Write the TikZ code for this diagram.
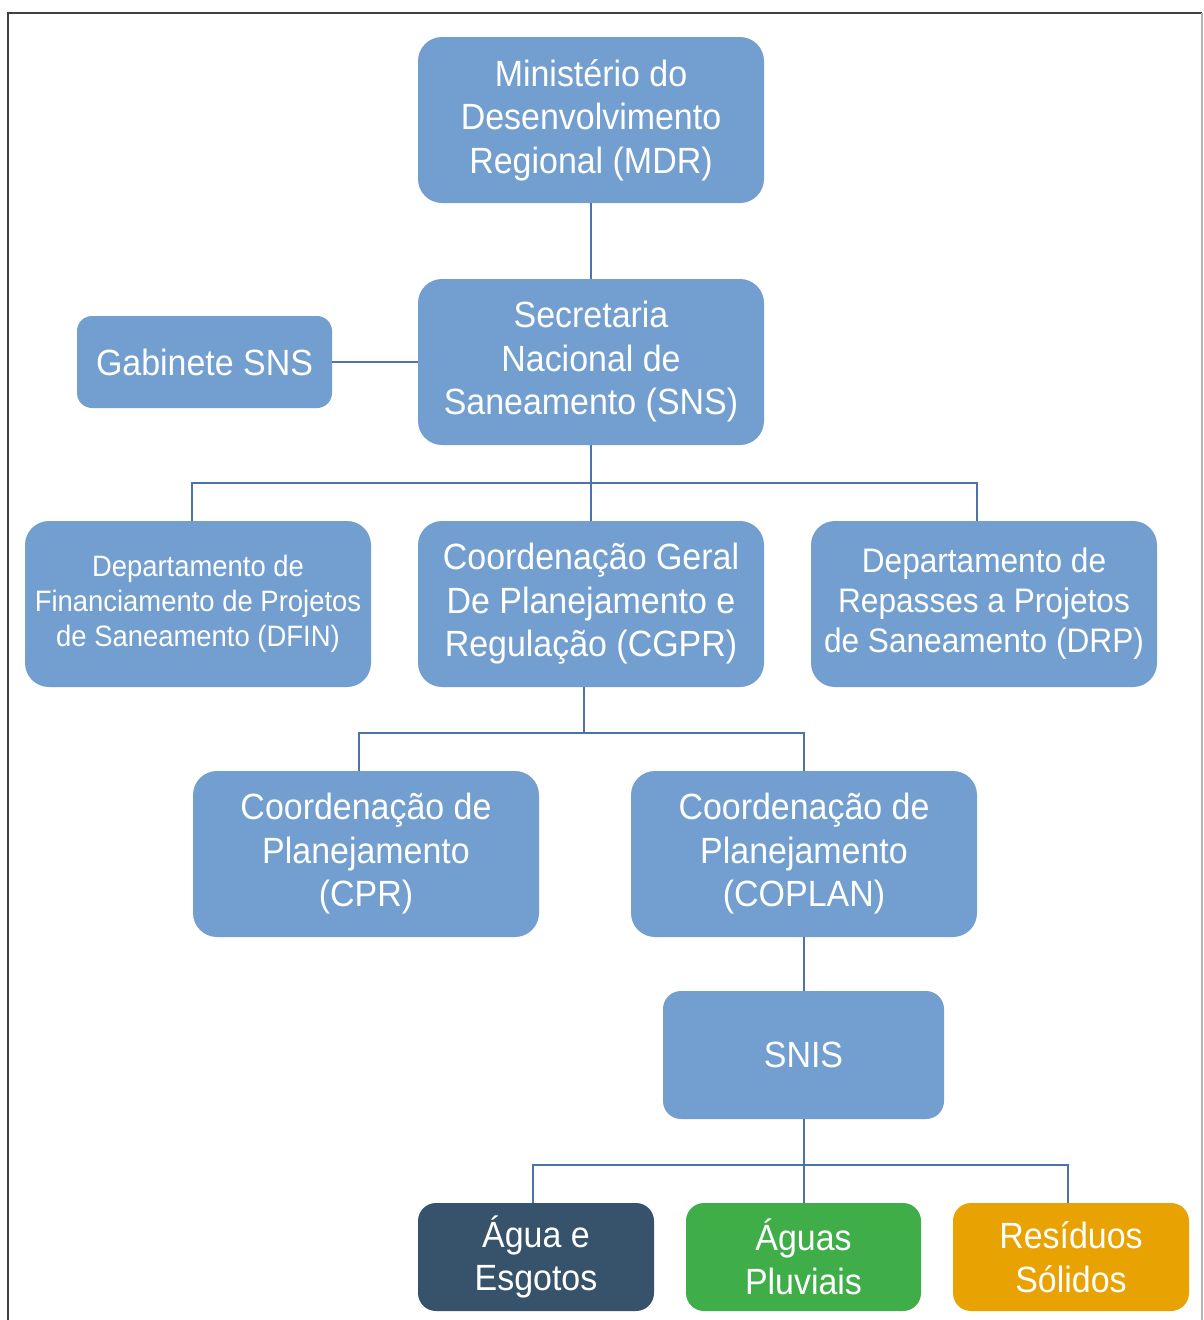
\documentclass[tikz,border=0pt]{standalone}
\usepackage{fontspec}
\setmainfont{Liberation Sans}
\newfontfamily\boxfont[FakeStretch=0.93]{Liberation Sans}
\definecolor{boxblue}{HTML}{729FCF}
\definecolor{connblue}{HTML}{4C73AC}
\definecolor{darkbox}{HTML}{36536B}
\definecolor{greenbox}{HTML}{3FAE49}
\definecolor{orangebox}{HTML}{E8A202}
\definecolor{framegray}{HTML}{404040}
\begin{document}
\begin{tikzpicture}[x=1pt,y=-1pt,
  orgbox/.style={rectangle, rounded corners=24pt, fill=boxblue, text=white,
    align=center, inner sep=0pt, minimum width=346pt, minimum height=166pt,
    font=\boxfont\fontsize{36.5}{43.5}\selectfont},
  smallbox/.style={orgbox, rounded corners=18pt},
  conn/.style={draw=connblue, line width=1.4pt}]
\useasboundingbox (0,0) rectangle (1203,1320);
\fill[white] (0,0) rectangle (1203,1320);
% frame
\draw[framegray, line width=2pt] (8,1330) -- (8,12.5) -- (1202,12.5);
\draw[gray!60, line width=1.2pt] (1202,12.5) -- (1202,1330);
% nodes
\node[orgbox] (mdr) at (591,120) {Ministério do\\Desenvolvimento\\Regional (MDR)};
\node[orgbox] (sns) at (591,362) {Secretaria\\Nacional de\\Saneamento (SNS)};
\node[smallbox, minimum width=255pt, minimum height=92pt, rounded corners=15pt] (gab) at (204.5,362) {Gabinete SNS};
\node[orgbox, font=\boxfont\fontsize{29.5}{35}\selectfont] (dfin) at (198,604) {Departamento de\\Financiamento de Projetos\\de Saneamento (DFIN)};
\node[orgbox] (cgpr) at (591,604) {Coordenação Geral\\De Planejamento e\\Regulação (CGPR)};
\node[orgbox, font=\boxfont\fontsize{34}{40}\selectfont] (drp) at (984,604) {Departamento de\\Repasses a Projetos\\de Saneamento (DRP)};
\node[orgbox] (cpr) at (366,854) {Coordenação de\\Planejamento\\(CPR)};
\node[orgbox] (coplan) at (804,854) {Coordenação de\\Planejamento\\(COPLAN)};
\node[smallbox, minimum width=281pt, minimum height=128pt] (snis) at (803.5,1055) {SNIS};
\node[smallbox, fill=darkbox, minimum width=236pt, minimum height=108pt] (agua) at (536,1257) {Água e\\Esgotos};
\node[smallbox, fill=greenbox, minimum width=235pt, minimum height=108pt] (pluv) at (803.5,1257) {Águas\\Pluviais};
\node[smallbox, fill=orangebox, minimum width=236pt, minimum height=108pt] (resid) at (1071,1257) {Resíduos\\Sólidos};
% connectors
\draw[conn] (mdr.south) -- (sns.north);
\draw[conn] (gab.east) -- (sns.west |- gab.east);
\coordinate (bus1) at (591,483);
\draw[conn] (sns.south) -- (bus1);
\draw[conn] ([xshift=-6pt]dfin.north) |- (bus1) -| ([xshift=-7pt]drp.north);
\draw[conn] (bus1) -- (cgpr.north);
\coordinate (bus2) at (584,733);
\draw[conn] ([xshift=-7pt]cgpr.south) -- (bus2);
\draw[conn] ([xshift=-7pt]cpr.north) |- (bus2) -| (coplan.north);
\draw[conn] (coplan.south) -- (coplan.south |- snis.north);
\coordinate (bus3) at (804,1165);
\draw[conn] (bus3 |- snis.south) -- (bus3);
\draw[conn] ([xshift=-3pt]agua.north) |- (bus3) -| ([xshift=-3pt]resid.north);
\draw[conn] (bus3) -- (bus3 |- pluv.north);
\end{tikzpicture}
\end{document}
